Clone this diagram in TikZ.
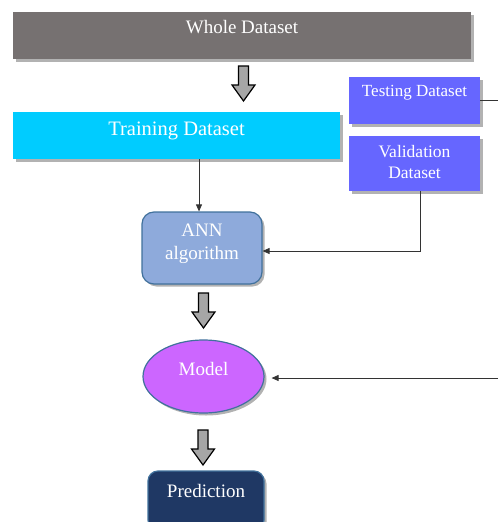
\documentclass[tikz,border=0pt]{standalone}
\usepackage{fontspec}
\setmainfont{Liberation Serif}
\usetikzlibrary{shadows,arrows.meta,shapes.geometric}
\definecolor{wholegray}{HTML}{767171}
\definecolor{traincyan}{HTML}{00CCFF}
\definecolor{testblue}{HTML}{6666FF}
\definecolor{annblue}{HTML}{8EAADB}
\definecolor{edgeblue}{HTML}{41719C}
\definecolor{modelpink}{HTML}{CC66FF}
\definecolor{prednavy}{HTML}{1F3864}
\definecolor{blockgray}{HTML}{A6A6A6}
\begin{document}
\begin{tikzpicture}[x=1pt,y=-1pt,
  sh/.style={drop shadow={shadow xshift=2.5pt,shadow yshift=-2.5pt,fill=black,opacity=0.3}},
  box/.style={rectangle,inner sep=0pt,sh},
  lbl/.style={text=white,font=\fontsize{19}{21}\selectfont,align=center},
  conn/.style={draw=black!80,line width=0.8pt},
  tip/.style={-{Triangle[length=7pt,width=6pt]}},
  blockarrow/.style={fill=blockgray,draw=black,line width=1.2pt,line join=miter},
  pics/downarrow/.style={code={\draw[blockarrow] (-5,0) -- (5,0) -- (5,19) -- (11.5,19) -- (0,35) -- (-11.5,19) -- (-5,19) -- cycle;}}
]
\useasboundingbox (0,0) rectangle (498,522);
\begin{scope}
\clip (0,0) rectangle (498,522);
\node[box,fill=wholegray,minimum width=458pt,minimum height=47pt,
  label={[lbl,yshift=8pt]center:Whole Dataset}] (whole) at (242,35.5) {};
\node[box,fill=traincyan,minimum width=327pt,minimum height=47pt,
  label={[lbl,font=\fontsize{20.5}{22}\selectfont,yshift=5pt]center:Training Dataset}] (train) at (176.5,135.5) {};
\node[box,fill=testblue,minimum width=131pt,minimum height=47pt,
  label={[lbl,font=\fontsize{17}{20}\selectfont,yshift=8pt]center:Testing Dataset}] (test) at (414.5,100.5) {};
\node[box,fill=testblue,minimum width=131pt,minimum height=55pt,
  label={[lbl,font=\fontsize{17.5}{20.5}\selectfont,yshift=1.5pt]center:Validation\\Dataset}] (val) at (414.5,163.5) {};
\node[box,fill=annblue,draw=edgeblue,line width=1.2pt,rounded corners=12pt,
  minimum width=120pt,minimum height=72pt,
  label={[lbl,font=\fontsize{19}{23}\selectfont,yshift=4pt]center:ANN\\algorithm}] (ann) at (202,248) {};
\node[ellipse,inner sep=0pt,sh,fill=modelpink,draw=edgeblue,line width=1.2pt,
  minimum width=121pt,minimum height=73pt,
  label={[lbl,yshift=7.5pt]center:Model}] (model) at (203.5,376.5) {};
\node[box,fill=prednavy,draw=edgeblue,line width=1.2pt,rounded corners=10pt,
  minimum width=116pt,minimum height=59pt,
  label={[lbl,yshift=10pt]center:Prediction}] (pred) at (206,500.5) {};
\end{scope}

\pic at (243.5,66) {downarrow};
\pic at (203.5,293) {downarrow};
\pic at (203,430) {downarrow};

\coordinate (testout) at (498,100.5);
\coordinate (modelin) at (498,378);
\draw[conn] (test.east) -- (testout);
\draw[conn,tip] ([xshift=-3pt]ann.north |- train.south) -- ([xshift=-3pt]ann.north);
\draw[conn,tip] ([xshift=5.5pt]val.south) |- ([yshift=-3pt]ann.east);
\draw[conn,tip,shorten >=7pt] (modelin) -- (modelin -| model.east);
\end{tikzpicture}
\end{document}
